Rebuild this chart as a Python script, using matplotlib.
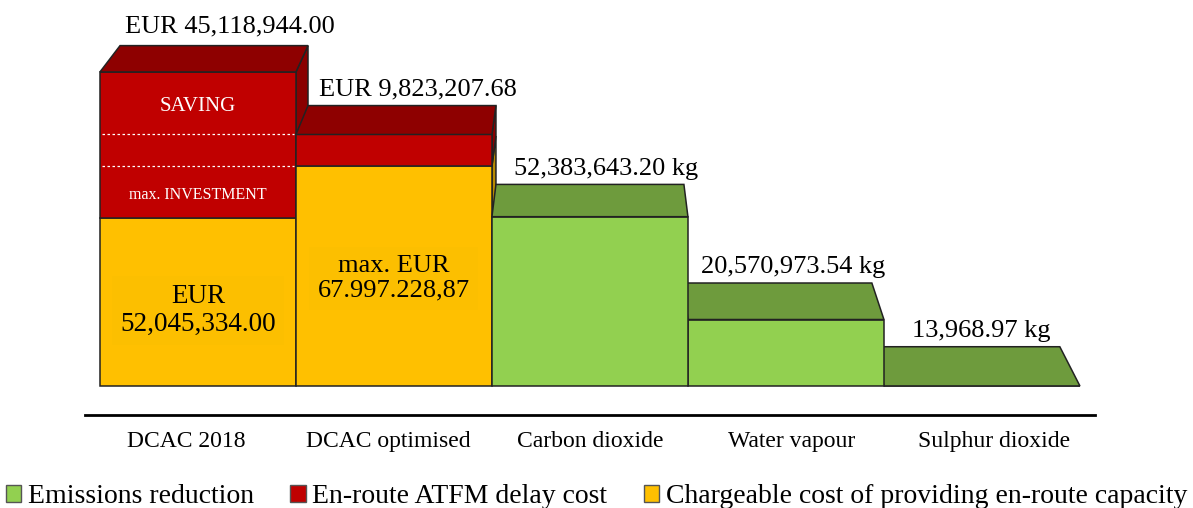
import numpy as np
import matplotlib.pyplot as plt
from matplotlib.patches import Polygon, Patch

plt.rcParams['font.family'] = ['Liberation Serif', 'DejaVu Serif']

categories = ['DCAC 2018', 'DCAC optimised', 'Carbon dioxide', 'Water vapour', 'Sulphur dioxide']
# millions of EUR / kg
capacity_cost = [52.045334, 67.99722887, 0, 0, 0]
delay_cost = [45.118944, 9.82320768, 0, 0, 0]
emissions = [0, 0, 52.3836432, 20.57097354, 0.01396897]
top_labels = ['EUR 45,118,944.00', 'EUR 9,823,207.68', '52,383,643.20 kg',
              '20,570,973.54 kg', '13,968.97 kg']
inner_labels = ['EUR\n52,045,334.00', 'max. EUR\n67.997.228,87']
legend_labels = ['Emissions reduction', 'En-route ATFM delay cost',
                 'Chargeable cost of providing en-route capacity']

colors = {
    'green': ('#92D050', '#6E9B3D', '#5E8A30'),
    'red': ('#C00000', '#8E0000', '#8A0000'),
    'yellow': ('#FFC000', '#C99700', '#B88A00'),
}

# fake 3d: back face is the front face shrunk towards a vanishing point
VP = (2.0, 296.0)
S = 0.959
W = 0.5


def back(x, y):
    return VP[0] + S * (x - VP[0]), VP[1] + S * (y - VP[1])


def box(ax, i, y0, y1, col, top, z):
    front, topc, side = colors[col]
    xl, xr = i - W, i + W
    ec = dict(edgecolor='#222222', linewidth=1.1)
    if xr < VP[0]:
        xs = xr
    elif xl > VP[0]:
        xs = xl
    else:
        xs = None
    if xs is not None and y1 > y0:
        ax.add_patch(Polygon([(xs, y0), (xs, y1), back(xs, y1), back(xs, y0)],
                             facecolor=side, zorder=z, **ec))
    if y1 > y0:
        ax.add_patch(Polygon([(xl, y0), (xr, y0), (xr, y1), (xl, y1)],
                             facecolor=front, zorder=z + 0.1, **ec))
    if top:
        ax.add_patch(Polygon([(xl, y1), (xr, y1), back(xr, y1), back(xl, y1)],
                             facecolor=topc, zorder=z + 0.2, **ec))


fig = plt.figure(figsize=(11.93, 5.08), dpi=100)
ax = fig.add_axes([0, 0, 1, 1])
ax.set_xlim(-1.010, 5.077)
ax.set_ylim(-37.75, 119.43)
ax.axis('off')

order = [0, 4, 1, 3, 2]
for z, i in enumerate(order):
    zz = 2 + z
    if emissions[i] > 0 and capacity_cost[i] == 0:
        box(ax, i, 0, emissions[i], 'green', True, zz)
        total = emissions[i]
    else:
        box(ax, i, 0, capacity_cost[i], 'yellow', False, zz)
        total = capacity_cost[i] + delay_cost[i]
        box(ax, i, capacity_cost[i], total, 'red', True, zz)
    bx0, by = back(i - W, total)
    bx1, _ = back(i + W, total)
    lift = 2.6 if i == 0 else 1.5
    ax.text((bx0 + bx1) / 2 + 0.08, by + lift, top_labels[i], ha='center', va='bottom',
            fontsize=19, zorder=20)

# optimised levels marked on the 2018 bar
for lvl in [capacity_cost[1], capacity_cost[1] + delay_cost[1]]:
    ax.plot([-W + 0.01, W - 0.01], [lvl, lvl], color='white', linestyle=(0, (2, 2)),
            linewidth=0.9, zorder=10)

t0 = capacity_cost[0] + delay_cost[0]
t1 = capacity_cost[1] + delay_cost[1]
ax.text(0, (t0 + t1) / 2 - 1.0, 'SAVING', color='white', ha='center', va='center',
        fontsize=15, zorder=10)
ax.text(0, (capacity_cost[0] + capacity_cost[1]) / 2 - 0.8, 'max. INVESTMENT', color='white',
        ha='center', va='center', fontsize=11.5, zorder=10)
ax.text(0, capacity_cost[0] * 0.45, inner_labels[0], ha='center', va='center',
        fontsize=19.5, linespacing=1.12, zorder=10,
        bbox=dict(facecolor='#FCBF00', edgecolor='none', pad=6))
ax.text(1, capacity_cost[1] * 0.49, inner_labels[1], ha='center', va='center',
        fontsize=19, linespacing=1.12, zorder=10,
        bbox=dict(facecolor='#FCBF00', edgecolor='none', pad=6))

# floor front edge and category labels
K = 1.03
fy = VP[1] + K * (0 - VP[1])
ax.plot([VP[0] + K * (-W - VP[0]), VP[0] + K * (4 + W - VP[0])], [fy, fy],
        color='black', linewidth=2, zorder=1)
for i, c in enumerate(categories):
    ax.text(VP[0] + K * (i - VP[0]), fy - 8.4, c, ha='center', va='center', fontsize=17)

handles = [Patch(facecolor=colors[c][0], edgecolor='#555555') for c in ['green', 'red', 'yellow']]
fig.legend(handles, legend_labels, loc='lower center', bbox_to_anchor=(0.5, -0.03), ncol=3,
           frameon=False, fontsize=20, handlelength=0.55, handleheight=0.55,
           handletextpad=0.25, columnspacing=1.3, borderaxespad=0.1)

fig.savefig('out.png', dpi=100)
